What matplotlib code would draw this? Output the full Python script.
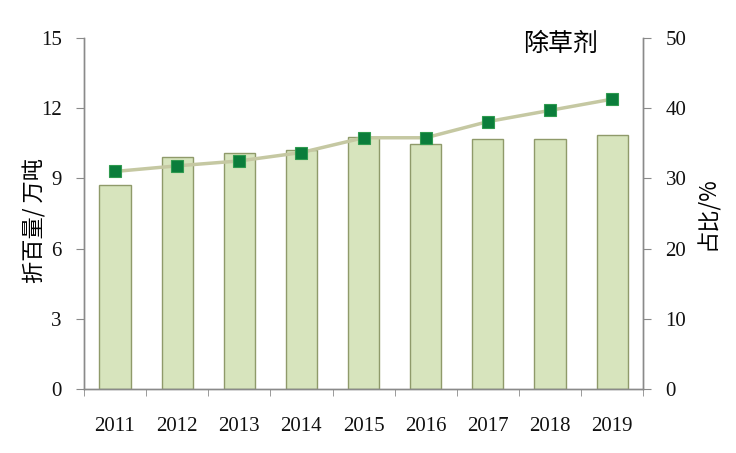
import matplotlib
matplotlib.use('Agg')
import matplotlib.pyplot as plt
import numpy as np

# ── data ──────────────────────────────────────────────────────────────────────
years = ['2011', '2012', '2013', '2014', '2015', '2016', '2017', '2018', '2019']
amount = [8.72, 9.93, 10.07, 10.21, 10.78, 10.47, 10.70, 10.70, 10.84]   # 折百量 / 万吨
share = [31.0, 31.8, 32.5, 33.7, 35.8, 35.8, 38.1, 39.7, 41.3]          # 占比 / %

CJK = ['Noto Sans CJK SC', 'DejaVu Sans']
SERIF = 'Liberation Serif'
AXIS_C = '#8a8a8a'

fig = plt.figure(figsize=(7.36, 4.53), dpi=100)
ax = fig.add_axes([0.114, 0.141, 0.760, 0.775])
ax2 = ax.twinx()

x = np.arange(len(years))
ax.bar(x, amount, width=0.5, color='#d7e4bd', edgecolor='#8f9a6a', linewidth=1.0, zorder=2)
ax2.plot(x, share, color='#c5c8a2', linewidth=2.5, marker='s', markersize=9,
         markerfacecolor='#0b7d3b', markeredgecolor='#2f9a4f', markeredgewidth=0.8, zorder=3)

# ── axes styling ──────────────────────────────────────────────────────────────
ax.set_xlim(-0.5, len(years) - 0.5)
ax.set_ylim(0, 15)
ax.set_yticks([0, 3, 6, 9, 12, 15])
ax2.set_ylim(0, 50)
ax2.set_yticks([0, 10, 20, 30, 40, 50])

ax.set_xticks(x)
ax.set_xticklabels(years)
ax.set_xticks(np.arange(-0.5, len(years)), minor=True)
ax.tick_params(axis='x', which='major', length=0, pad=20)
ax.tick_params(axis='x', which='minor', length=5, color=AXIS_C, direction='out')
ax.tick_params(axis='y', length=6, color=AXIS_C, direction='out', pad=10)
ax2.tick_params(axis='y', length=6, color=AXIS_C, direction='out', pad=10)

for a in (ax, ax2):
    a.spines['top'].set_visible(False)
    for s in ('left', 'right', 'bottom'):
        a.spines[s].set_color(AXIS_C)
        a.spines[s].set_linewidth(1.0)
    for lab in a.get_xticklabels() + a.get_yticklabels():
        lab.set_fontfamily(SERIF)
        lab.set_fontsize(15)
        lab.set_color('#111111')

ax.set_ylabel('折百量/ 万吨', family=CJK, fontsize=16)
ax.yaxis.set_label_coords(-0.066, 0.48)
ax2.set_ylabel('占比/%', family=CJK, fontsize=16)
ax2.yaxis.set_label_coords(1.093, 0.5)
ax.text(0.853, 0.983, '除草剂', transform=ax.transAxes, family=CJK, fontsize=18,
        ha='center', va='center')

fig.savefig('out.png', dpi=100, facecolor='white')
